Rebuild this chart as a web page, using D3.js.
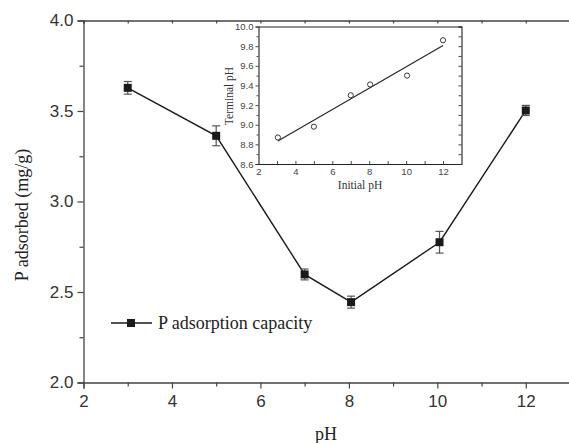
<!DOCTYPE html>
<html><head><meta charset="utf-8">
<script src="https://cdn.jsdelivr.net/npm/d3@7"></script>
<style>body{margin:0;background:#fff;} svg{display:block;}</style>
</head><body>
<svg id="c" width="569" height="443"></svg>
<script>
// Main series
const mainPH = [3, 5, 7, 8.05, 10.05, 12];
const mainP = [3.628, 3.363, 2.597, 2.444, 2.775, 3.503];
const mainErr = [0.035, 0.055, 0.03, 0.033, 0.06, 0.028];
const mainXTicks = [2, 4, 6, 8, 10, 12];
const mainYTicks = [2.0, 2.5, 3.0, 3.5, 4.0];
const legendLabel = "P adsorption capacity";
// Inset series
const insetInitial = [3.05, 5, 7, 8.05, 10.05, 12];
const insetTerminal = [8.87, 8.98, 9.30, 9.41, 9.50, 9.86];
const insetXTicks = [2, 4, 6, 8, 10, 12];
const insetYTicks = [8.6, 8.8, 9.0, 9.2, 9.4, 9.6, 9.8, 10.0];

const svg = d3.select("#c");
const axisCol = "#444";
const sans = "'Liberation Sans', Arial, sans-serif";
const serif = "'Liberation Serif', 'Times New Roman', serif";

// ---------- main chart ----------
const x = d3.scaleLinear().domain([2, 13]).range([83.5, 570]);
const y = d3.scaleLinear().domain([2, 4]).range([382.5, 20.5]);

const g = svg.append("g");
const xMinor = d3.range(3, 13, 2);
const yMinor = [2.25, 2.75, 3.25, 3.75];

g.append("g").attr("transform", `translate(0,${y(2)})`)
  .call(d3.axisBottom(x).tickValues(mainXTicks).tickFormat(d3.format("d")).tickSize(6).tickPadding(6));
g.append("g").attr("transform", `translate(0,${y(2)})`)
  .call(d3.axisBottom(x).tickValues(xMinor).tickFormat("").tickSize(4)).select(".domain").remove();
g.append("g").attr("transform", `translate(${x(2)},0)`)
  .call(d3.axisLeft(y).tickValues(mainYTicks).tickFormat(d3.format(".1f")).tickSize(6).tickPadding(4));
g.append("g").attr("transform", `translate(${x(2)},0)`)
  .call(d3.axisLeft(y).tickValues(yMinor).tickFormat("").tickSize(4)).select(".domain").remove();
g.append("g").attr("transform", `translate(0,${y(4)})`)
  .call(d3.axisTop(x).tickValues(mainXTicks.concat(xMinor)).tickFormat("").tickSize(-3));

g.selectAll(".domain").attr("stroke", axisCol).attr("stroke-width", 1.3);
g.selectAll(".tick line").attr("stroke", axisCol).attr("stroke-width", 1.2);
g.selectAll(".tick text").attr("font-family", sans).attr("font-size", 17).attr("fill", "#333");

svg.append("path")
  .datum(mainPH.map((d, i) => [d, mainP[i]]))
  .attr("fill", "none").attr("stroke", "#1a1a1a").attr("stroke-width", 1.4)
  .attr("d", d3.line().x(d => x(d[0])).y(d => y(d[1])));
const eb = svg.append("g").attr("stroke", "#555").attr("stroke-width", 1.2);
mainPH.forEach((d, i) => {
  const cx = x(d), y1 = y(mainP[i] + mainErr[i]), y2 = y(mainP[i] - mainErr[i]);
  eb.append("line").attr("x1", cx).attr("x2", cx).attr("y1", y1).attr("y2", y2);
  eb.append("line").attr("x1", cx - 4).attr("x2", cx + 4).attr("y1", y1).attr("y2", y1);
  eb.append("line").attr("x1", cx - 4).attr("x2", cx + 4).attr("y1", y2).attr("y2", y2);
});
svg.append("g").selectAll("rect").data(mainPH).join("rect")
  .attr("x", d => x(d) - 4).attr("y", (d, i) => y(mainP[i]) - 4)
  .attr("width", 8).attr("height", 8).attr("fill", "#1a1a1a");

svg.append("line").attr("x1", 111).attr("x2", 152).attr("y1", 323).attr("y2", 323)
  .attr("stroke", "#1a1a1a").attr("stroke-width", 1.4);
svg.append("rect").attr("x", 127).attr("y", 319).attr("width", 8).attr("height", 8).attr("fill", "#1a1a1a");
svg.append("text").attr("x", 158).attr("y", 329).text(legendLabel)
  .attr("font-family", serif).attr("font-size", 18).attr("fill", "#222");

svg.append("text").attr("x", 326).attr("y", 440).attr("text-anchor", "middle")
  .attr("font-family", serif).attr("font-size", 18).attr("fill", "#222").text("pH");
svg.append("text").attr("transform", "translate(28,215) rotate(-90)").attr("text-anchor", "middle")
  .attr("font-family", serif).attr("font-size", 18).attr("fill", "#222").text("P adsorbed (mg/g)");

// ---------- inset ----------
const ix = d3.scaleLinear().domain([2, 13]).range([258.5, 461.5]);
const iy = d3.scaleLinear().domain([8.6, 10.0]).range([164, 26.5]);
const ig = svg.append("g");
ig.append("rect").attr("x", ix(2)).attr("y", iy(10)).attr("width", ix(13) - ix(2)).attr("height", iy(8.6) - iy(10))
  .attr("fill", "#fff").attr("stroke", "none");
const ixAll = d3.range(3, 13, 1);
const iyMinor = d3.range(8.7, 10.0, 0.2);
ig.append("g").attr("transform", `translate(0,${iy(8.6)})`)
  .call(d3.axisBottom(ix).tickValues(insetXTicks).tickFormat(d3.format("d")).tickSize(0).tickPadding(4));
ig.append("g").attr("transform", `translate(0,${iy(8.6)})`)
  .call(d3.axisBottom(ix).tickValues(ixAll).tickFormat("").tickSize(-3)).select(".domain").remove();
ig.append("g").attr("transform", `translate(${ix(2)},0)`)
  .call(d3.axisLeft(iy).tickValues(insetYTicks).tickFormat(d3.format(".1f")).tickSize(3).tickPadding(2));
ig.append("g").attr("transform", `translate(${ix(2)},0)`)
  .call(d3.axisLeft(iy).tickValues(iyMinor).tickFormat("").tickSize(2)).select(".domain").remove();
ig.append("g").attr("transform", `translate(${ix(13)},0)`)
  .call(d3.axisRight(iy).tickValues(insetYTicks.concat(iyMinor)).tickFormat("").tickSize(-3));
ig.append("g").attr("transform", `translate(0,${iy(10)})`)
  .call(d3.axisTop(ix).tickValues([]).tickSize(0));
ig.selectAll(".domain").attr("stroke", "#222").attr("stroke-width", 1.1);
ig.selectAll(".tick line").attr("stroke", "#333").attr("stroke-width", 0.9);
ig.selectAll(".tick text").attr("font-family", sans).attr("font-size", 9.5).attr("fill", "#444");

const mx = d3.mean(insetInitial), my = d3.mean(insetTerminal);
const slope = d3.sum(insetInitial.map((v, i) => (v - mx) * (insetTerminal[i] - my))) /
  d3.sum(insetInitial.map(v => (v - mx) ** 2));
const icpt = my - slope * mx;
const x0 = d3.min(insetInitial), x1 = d3.max(insetInitial);
ig.append("line").attr("x1", ix(x0)).attr("y1", iy(icpt + slope * x0))
  .attr("x2", ix(x1)).attr("y2", iy(icpt + slope * x1))
  .attr("stroke", "#222").attr("stroke-width", 1.1);
ig.append("g").selectAll("circle").data(insetInitial).join("circle")
  .attr("cx", d => ix(d)).attr("cy", (d, i) => iy(insetTerminal[i])).attr("r", 2.6)
  .attr("fill", "#fff").attr("stroke", "#222").attr("stroke-width", 0.9);

ig.append("text").attr("x", 360).attr("y", 189).attr("text-anchor", "middle")
  .attr("font-family", serif).attr("font-size", 11.5).attr("fill", "#333").text("Initial pH");
ig.append("text").attr("transform", "translate(233,96) rotate(-90)").attr("text-anchor", "middle")
  .attr("font-family", serif).attr("font-size", 11.5).attr("fill", "#333").text("Terminal pH");
</script>
</body></html>
